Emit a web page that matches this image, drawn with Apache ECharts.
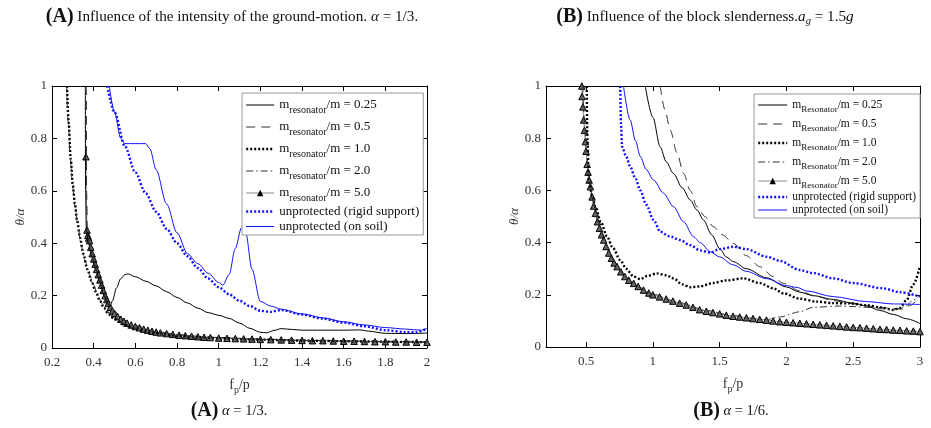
<!DOCTYPE html>
<html><head><meta charset="utf-8">
<script src="https://cdn.jsdelivr.net/npm/echarts@6/dist/echarts.min.js"></script>
<style>html,body{margin:0;padding:0;background:#fff}#c{width:931px;height:428px}</style>
</head><body><div id="c"></div>
<script>
// ---------- data ----------
const xTicksA = [0.2,0.4,0.6,0.8,1,1.2,1.4,1.6,1.8,2];
const xTicksB = [0.5,1,1.5,2,2.5,3];
const yTicks = [0,0.2,0.4,0.6,0.8,1];
const ratioValues = ['0.25','0.5','1.0','2.0','5.0'];
const unprotLabels = ['unprotected (rigid support)','unprotected (on soil)'];

// Panel A  [f_p/p, theta/alpha]
const A_m025 = [[0.36,1.0],[0.361,0.6],[0.365,0.45],[0.375,0.4],[0.39,0.35],[0.41,0.3],[0.43,0.25],[0.45,0.2],[0.47,0.165],[0.478,0.158],[0.49,0.18],[0.51,0.23],[0.53,0.265],[0.55,0.28],[0.565,0.283],[0.6,0.272],[0.65,0.255],[0.7,0.237],[0.75,0.215],[0.8,0.193],[0.85,0.172],[0.9,0.152],[0.95,0.135],[1.0,0.125],[1.05,0.113],[1.1,0.095],[1.15,0.075],[1.2,0.06],[1.23,0.058],[1.27,0.068],[1.3,0.074],[1.35,0.071],[1.4,0.068],[1.5,0.068],[1.6,0.068],[1.68,0.069],[1.72,0.064],[1.8,0.056],[1.9,0.055],[2.0,0.057]];
const A_m05 = [[0.365,1.0],[0.366,0.6],[0.37,0.46],[0.38,0.4],[0.4,0.335],[0.42,0.285],[0.44,0.24],[0.46,0.2],[0.48,0.165],[0.5,0.14],[0.55,0.105],[0.6,0.085],[0.7,0.063],[0.8,0.052],[0.9,0.045],[1.0,0.04],[1.2,0.034],[1.4,0.03],[1.6,0.027],[1.8,0.025],[2.0,0.023]];
const A_m1 = [[0.272,1.0],[0.28,0.86],[0.29,0.72],[0.3,0.62],[0.31,0.55],[0.32,0.49],[0.335,0.42],[0.35,0.36],[0.37,0.3],[0.39,0.255],[0.41,0.215],[0.43,0.18],[0.45,0.152],[0.47,0.13],[0.5,0.11],[0.55,0.088],[0.6,0.074],[0.65,0.064],[0.7,0.057],[0.8,0.047],[0.9,0.041],[1.0,0.037],[1.1,0.034],[1.2,0.032],[1.3,0.03],[1.4,0.028],[1.5,0.027],[1.6,0.026],[1.7,0.025],[1.8,0.024],[1.9,0.023],[2.0,0.022]];
const A_m2 = [[0.27,1.0],[0.278,0.86],[0.288,0.72],[0.298,0.62],[0.31,0.54],[0.325,0.46],[0.34,0.39],[0.36,0.33],[0.38,0.28],[0.4,0.24],[0.42,0.2],[0.44,0.17],[0.46,0.145],[0.48,0.128],[0.5,0.115],[0.55,0.09],[0.6,0.075],[0.7,0.058],[0.8,0.048],[0.9,0.042],[1.0,0.038],[1.2,0.033],[1.4,0.029],[1.6,0.026],[1.8,0.024],[2.0,0.022]];
const A_m5 = [[0.363,0.73],[0.368,0.45],[0.372,0.43],[0.376,0.42],[0.38,0.41],[0.386,0.385],[0.393,0.36],[0.4,0.34],[0.407,0.32],[0.414,0.3],[0.422,0.28],[0.43,0.26],[0.438,0.24],[0.446,0.22],[0.455,0.2],[0.463,0.185],[0.47,0.17],[0.48,0.155],[0.49,0.142],[0.5,0.132],[0.515,0.12],[0.53,0.11],[0.545,0.102],[0.56,0.095],[0.58,0.088],[0.6,0.082],[0.62,0.077],[0.64,0.072],[0.66,0.068],[0.68,0.064],[0.7,0.061],[0.72,0.058],[0.75,0.055],[0.78,0.052],[0.81,0.049],[0.84,0.047],[0.87,0.045],[0.9,0.043],[0.93,0.041],[0.96,0.04],[1.0,0.038],[1.04,0.037],[1.08,0.036],[1.12,0.035],[1.16,0.034],[1.2,0.033],[1.25,0.032],[1.3,0.031],[1.35,0.03],[1.4,0.029],[1.45,0.028],[1.5,0.028],[1.55,0.027],[1.6,0.026],[1.65,0.026],[1.7,0.025],[1.75,0.024],[1.8,0.024],[1.85,0.023],[1.9,0.023],[1.95,0.022],[2.0,0.022]];
const A_rigid = [[0.465,1.0],[0.5,0.9],[0.55,0.77],[0.6,0.67],[0.65,0.59],[0.7,0.52],[0.75,0.455],[0.8,0.4],[0.85,0.35],[0.9,0.305],[0.95,0.265],[1.0,0.232],[1.05,0.205],[1.1,0.18],[1.15,0.16],[1.2,0.142],[1.25,0.138],[1.3,0.145],[1.4,0.128],[1.5,0.112],[1.6,0.097],[1.7,0.083],[1.8,0.068],[1.9,0.06],[1.95,0.06],[2.0,0.075]];
const A_soil = [[0.475,1.0],[0.5,0.9],[0.53,0.8],[0.55,0.78],[0.6,0.78],[0.65,0.78],[0.67,0.76],[0.7,0.68],[0.75,0.55],[0.8,0.44],[0.85,0.36],[0.9,0.322],[0.95,0.285],[1.0,0.25],[1.02,0.24],[1.05,0.28],[1.08,0.38],[1.11,0.46],[1.13,0.44],[1.16,0.3],[1.2,0.178],[1.25,0.16],[1.3,0.148],[1.4,0.13],[1.5,0.115],[1.6,0.1],[1.7,0.088],[1.8,0.078],[1.9,0.072],[1.97,0.068],[2.0,0.075]];

// Panel B
const B_m025 = [[0.943,1.0],[1.0,0.88],[1.055,0.767],[1.1,0.71],[1.154,0.665],[1.22,0.61],[1.28,0.563],[1.33,0.525],[1.379,0.487],[1.44,0.43],[1.503,0.375],[1.55,0.345],[1.603,0.327],[1.7,0.3],[1.852,0.265],[2.0,0.23],[2.1,0.21],[2.2,0.197],[2.35,0.182],[2.5,0.168],[2.6,0.157],[2.7,0.14],[2.8,0.125],[2.9,0.108],[3.0,0.09]];
const B_m05 = [[1.055,1.0],[1.09,0.91],[1.13,0.831],[1.18,0.745],[1.23,0.665],[1.28,0.6],[1.33,0.538],[1.39,0.5],[1.453,0.461],[1.52,0.43],[1.603,0.397],[1.7,0.35],[1.8,0.308],[1.9,0.27],[1.976,0.244],[2.1,0.215],[2.225,0.193],[2.35,0.178],[2.474,0.167],[2.6,0.158],[2.7,0.152],[2.8,0.148],[2.87,0.145],[2.93,0.16],[3.0,0.2]];
const B_m1 = [[0.505,1.0],[0.51,0.8],[0.52,0.64],[0.545,0.58],[0.57,0.537],[0.61,0.48],[0.657,0.423],[0.7,0.38],[0.756,0.333],[0.8,0.3],[0.856,0.27],[0.906,0.26],[0.96,0.272],[1.03,0.282],[1.1,0.275],[1.154,0.263],[1.22,0.24],[1.28,0.229],[1.35,0.232],[1.45,0.245],[1.55,0.255],[1.677,0.263],[1.8,0.245],[1.9,0.225],[1.976,0.206],[2.1,0.185],[2.225,0.174],[2.35,0.168],[2.474,0.167],[2.6,0.16],[2.7,0.152],[2.8,0.142],[2.85,0.15],[2.9,0.18],[2.95,0.24],[3.0,0.31]];
const B_m2 = [[0.475,1.0],[0.49,0.85],[0.5,0.76],[0.52,0.66],[0.55,0.56],[0.6,0.46],[0.65,0.39],[0.7,0.335],[0.8,0.265],[0.9,0.228],[1.0,0.202],[1.2,0.17],[1.4,0.14],[1.6,0.12],[1.8,0.107],[1.85,0.105],[1.95,0.115],[2.1,0.135],[2.2,0.152],[2.4,0.157],[2.5,0.155],[2.6,0.152],[2.7,0.147],[2.8,0.142],[2.85,0.148],[2.9,0.16],[2.95,0.18],[3.0,0.2]];
const B_m5 = [[0.468,1.0],[0.47,0.96],[0.476,0.92],[0.482,0.87],[0.488,0.83],[0.495,0.787],[0.5,0.75],[0.508,0.7],[0.515,0.67],[0.523,0.64],[0.532,0.614],[0.545,0.575],[0.557,0.54],[0.57,0.512],[0.585,0.48],[0.6,0.455],[0.616,0.43],[0.632,0.41],[0.65,0.385],[0.67,0.36],[0.69,0.34],[0.71,0.322],[0.732,0.308],[0.76,0.288],[0.79,0.27],[0.82,0.256],[0.856,0.244],[0.89,0.232],[0.93,0.218],[0.97,0.207],[1.0,0.2],[1.05,0.192],[1.1,0.184],[1.15,0.176],[1.2,0.168],[1.25,0.161],[1.3,0.152],[1.35,0.143],[1.4,0.137],[1.45,0.132],[1.5,0.127],[1.55,0.122],[1.6,0.118],[1.65,0.115],[1.7,0.112],[1.75,0.109],[1.8,0.106],[1.85,0.103],[1.9,0.1],[1.95,0.097],[2.0,0.095],[2.05,0.093],[2.1,0.091],[2.15,0.089],[2.2,0.087],[2.25,0.085],[2.3,0.083],[2.35,0.081],[2.4,0.079],[2.45,0.077],[2.5,0.075],[2.55,0.074],[2.6,0.072],[2.65,0.07],[2.7,0.068],[2.75,0.067],[2.8,0.065],[2.85,0.064],[2.9,0.062],[2.95,0.061],[3.0,0.059]];
const B_rigid = [[0.756,1.0],[0.762,0.85],[0.769,0.767],[0.8,0.73],[0.831,0.69],[0.87,0.645],[0.906,0.6],[0.95,0.545],[1.005,0.487],[1.055,0.442],[1.12,0.425],[1.204,0.41],[1.28,0.39],[1.354,0.37],[1.43,0.362],[1.5,0.375],[1.603,0.384],[1.7,0.375],[1.852,0.346],[1.95,0.33],[2.1,0.295],[2.2,0.283],[2.35,0.263],[2.5,0.245],[2.72,0.225],[2.85,0.21],[3.0,0.193]];
const B_soil = [[0.78,1.0],[0.83,0.87],[0.87,0.79],[0.906,0.73],[0.95,0.68],[1.005,0.64],[1.08,0.589],[1.154,0.538],[1.23,0.48],[1.304,0.423],[1.354,0.4],[1.43,0.365],[1.5,0.345],[1.6,0.315],[1.7,0.29],[1.85,0.262],[2.0,0.235],[2.08,0.228],[2.15,0.215],[2.35,0.193],[2.6,0.174],[2.8,0.165],[3.0,0.163]];

// ---------- styling ----------
const SERIF = "'Liberation Serif', 'DejaVu Serif', serif";
const BLUE = '#1010ff';
const styleDefs = [
  {color:'#000', width:1, type:'solid'},
  {color:'#333', width:1, type:[9,6]},
  {color:'#000', width:2.4, type:[2,2]},
  {color:'#333', width:1, type:[7,3,1.5,3]},
  {color:'#888', width:1, type:'solid', tri:true},
  {color:BLUE, width:2.4, type:[2,2]},
  {color:BLUE, width:1, type:'solid'}
];
const dataA = [A_m025, A_m05, A_m1, A_m2, A_m5, A_rigid, A_soil];
const dataB = [B_m025, B_m05, B_m1, B_m2, B_m5, B_rigid, B_soil];
const namesA = dataA.map((d,i)=>'A'+i);
const namesB = dataB.map((d,i)=>'B'+i);

function mkSeries(data, names, axisIdx) {
  return data.map((d,i)=>{
    const s = styleDefs[i];
    return {
      type:'line', name:names[i], data:d, xAxisIndex:axisIdx, yAxisIndex:axisIdx,
      smooth:0.3, smoothMonotone:'x',
      symbol: s.tri ? 'triangle' : 'none', symbolSize: 6.5, showSymbol: !!s.tri, showAllSymbol:true,
      itemStyle: s.tri ? {color:'#666', borderColor:'#000', borderWidth:1} : {color:s.color},
      lineStyle:{color:s.color, width:s.width, type:s.type, cap:'butt'},
      z: s.tri ? 1 : (i>=5 ? 3 : 2),
      silent:true, clip:true
    };
  });
}

function legendLabel(name, sub) {
  const i = +name.slice(1);
  if (i < 5) return '{m|m}{s|' + sub + '}{m|/m = ' + ratioValues[i] + '}';
  return '{p|' + unprotLabels[i-5] + '}';
}

function mkLegend(names, sub, left, top, fs, sfs, slh, spad, plh, gap, iw) {
  return {
    left:left, top:top, orient:'vertical', selectedMode:false,
    itemWidth:iw, itemHeight:8, itemGap:gap,
    padding:[2,4,2,3], borderColor:'#999', borderWidth:1, backgroundColor:'#fff',
    data: names.map((n,i)=>({
      name:n,
      lineStyle:{width: styleDefs[i].width},
      itemStyle: styleDefs[i].tri ? {color:'#000', borderWidth:0} : {opacity:0}
    })),
    formatter: n => legendLabel(n, sub),
    textStyle:{
      rich:{
        m:{fontFamily:SERIF, fontSize:fs, color:'#111', lineHeight:plh},
        s:{fontFamily:SERIF, fontSize:sfs, color:'#111', lineHeight:slh, padding:[spad,0,0,0]},
        p:{fontFamily:SERIF, fontSize:fs, color:'#111', lineHeight:plh}
      }
    }
  };
}

const tickLabel = {fontFamily:SERIF, fontSize:13, color:'#333'};
const nameRich = {
  n:{fontFamily:SERIF, fontSize:14, color:'#333'},
  s:{fontFamily:SERIF, fontSize:10, color:'#333', padding:[10,0,0,0]}
};
function xAxes(grid, min, max, interval, custom) {
  const base = {
    type:'value', gridIndex:grid, min:min, max:max, interval:interval,
    splitLine:{show:false},
    axisLine:{onZero:false, lineStyle:{color:'#000', width:1}},
    axisTick:{inside:true, length:5, lineStyle:{color:'#000'}},
  };
  if (custom) { base.axisTick.customValues = custom; }
  const bottom = Object.assign({}, base, {
    position:'bottom',
    axisLabel: Object.assign({margin:8}, tickLabel, custom ? {customValues:custom} : {}),
    name:'{n|f}{s|p}{n|/p}', nameLocation:'middle', nameGap:27,
    nameTextStyle:{rich:nameRich}
  });
  const top = Object.assign({}, base, {position:'top', axisLabel:{show:false},
    axisTick: Object.assign({}, base.axisTick)});
  return [bottom, top];
}
function yAxes(grid) {
  const base = {
    type:'value', gridIndex:grid, min:0, max:1, interval:0.2,
    splitLine:{show:false},
    axisLine:{onZero:false, lineStyle:{color:'#000', width:1}},
    axisTick:{inside:true, length:5, lineStyle:{color:'#000'}}
  };
  return [
    Object.assign({}, base, {position:'left', axisLabel:Object.assign({margin:5, formatter: v => String(+v.toFixed(1))}, tickLabel),
      name:'θ/α', nameLocation:'middle', nameGap:24, nameRotate:90,
      nameTextStyle:{fontFamily:SERIF, fontSize:13, fontStyle:'italic', color:'#333'}}),
    Object.assign({}, base, {position:'right', axisLabel:{show:false}})
  ];
}

const xa = xAxes(0, 0.2, 2, 0.2, null);
const xb = xAxes(1, 0.2, 3, null, xTicksB);
const ya = yAxes(0), yb = yAxes(1);

const titleRich = {
  b:{fontFamily:SERIF, fontWeight:'bold', fontSize:20, color:'#111'},
  n:{fontFamily:SERIF, fontWeight:'normal', fontSize:15.2, color:'#111'},
  i:{fontFamily:SERIF, fontWeight:'normal', fontSize:15.2, fontStyle:'italic', color:'#111'},
  si:{fontFamily:SERIF, fontWeight:'normal', fontSize:10.5, fontStyle:'italic', color:'#111', padding:[9,0,0,0]}
};
const capRich = {
  b:{fontFamily:SERIF, fontWeight:'bold', fontSize:20, color:'#111'},
  n:{fontFamily:SERIF, fontWeight:'normal', fontSize:14.5, color:'#111'},
  i:{fontFamily:SERIF, fontWeight:'normal', fontSize:14.5, fontStyle:'italic', color:'#111'}
};

const option = {
  animation:false,
  backgroundColor:'#fff',
  title:[
    {left:227, top:2, textAlign:'center', text:'{b|(A)}{n| Influence of the intensity of the ground-motion. }{i|α}{n| = 1/3.}', textStyle:{fontWeight:'normal', rich:titleRich}},
    {left:700, top:2, textAlign:'center', text:'{b|(B)}{n| Influence of the block slenderness.}{i|a}{si|g}{n| = 1.5}{i|g}', textStyle:{fontWeight:'normal', rich:titleRich}},
    {left:224, top:396, textAlign:'center', text:'{b|(A)}{n| }{i|α}{n| = 1/3.}', textStyle:{fontWeight:'normal', rich:capRich}},
    {left:726, top:396, textAlign:'center', text:'{b|(B)}{n| }{i|α}{n| = 1/6.}', textStyle:{fontWeight:'normal', rich:capRich}}
  ],
  grid:[
    {left:52, top:86, width:375, height:262, containLabel:false},
    {left:546, top:86, width:374, height:261, containLabel:false}
  ],
  xAxis:[xa[0], xa[1], xb[0], xb[1]],
  yAxis:[ya[0], ya[1], yb[0], yb[1]],
  legend:[
    mkLegend(namesA, 'resonator', 242, 93, 13, 10, 6, 10, 14, 2, 28),
    mkLegend(namesB, 'Resonator', 754, 94, 11.5, 9, 5, 9, 11, 1, 29)
  ],
  series: [].concat(
    mkSeries(dataA, namesA, 0).map(s=>Object.assign(s,{xAxisIndex:0, yAxisIndex:0})),
    mkSeries(dataB, namesB, 2).map(s=>Object.assign(s,{xAxisIndex:2, yAxisIndex:2}))
  )
};
const chart = echarts.init(document.getElementById('c'), null, {renderer:'canvas'});
chart.setOption(option);
</script></body></html>
